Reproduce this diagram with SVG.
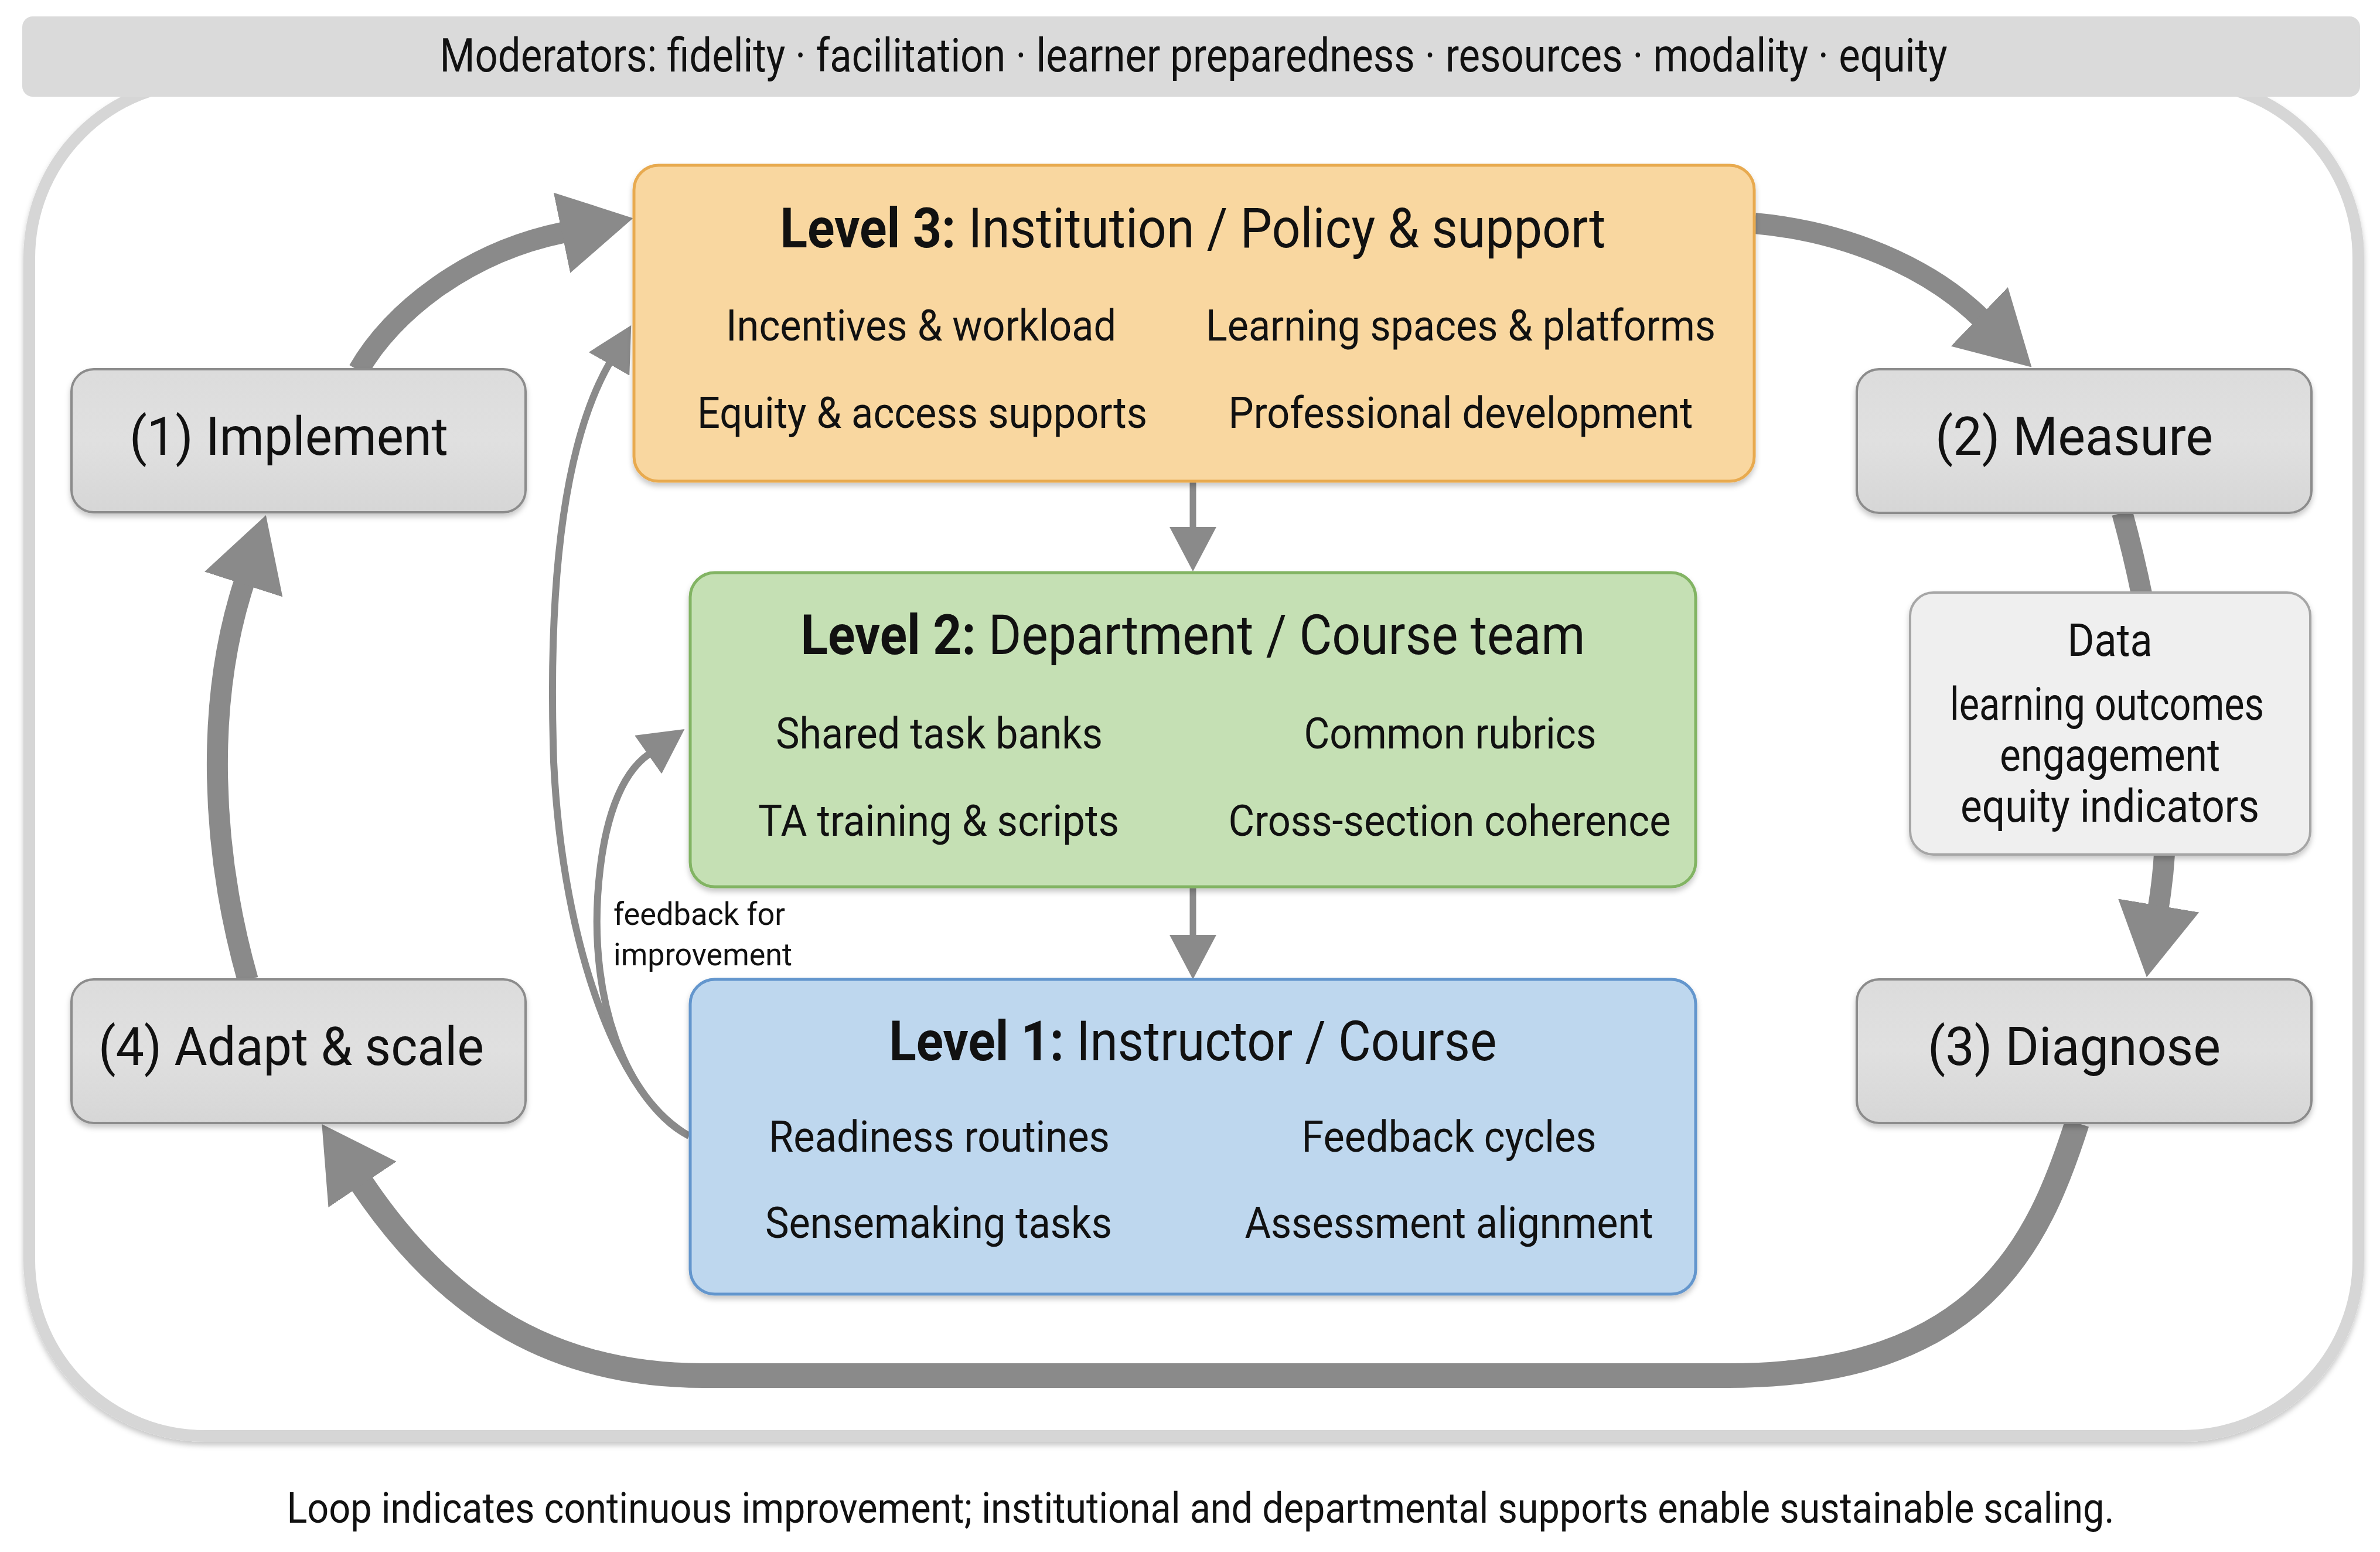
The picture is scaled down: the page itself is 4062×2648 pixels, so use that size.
<svg xmlns="http://www.w3.org/2000/svg" width="4062" height="2648" viewBox="0 0 4062 2648">
  <defs>
    <marker id="bigHead" markerUnits="userSpaceOnUse" viewBox="0 0 124 140" markerWidth="124" markerHeight="140" refX="1" refY="70" orient="auto">
      <path d="M0,0 L124,70 L0,140 Z" fill="#8a8a8a"/>
    </marker>
    <marker id="smallHead" markerUnits="userSpaceOnUse" viewBox="0 0 76 80" markerWidth="76" markerHeight="80" refX="1" refY="40" orient="auto">
      <path d="M0,0 L76,40 L0,80 Z" fill="#8a8a8a"/>
    </marker>
    <filter id="shadow" x="-5%" y="-5%" width="110%" height="120%">
      <feDropShadow dx="0" dy="6" stdDeviation="5" flood-color="#000000" flood-opacity="0.22"/>
    </filter>
    <linearGradient id="stepFill" x1="0" y1="0" x2="0" y2="1">
      <stop offset="0" stop-color="#dcdcdc"/>
      <stop offset="0.5" stop-color="#e0e0e0"/>
      <stop offset="1" stop-color="#d6d6d6"/>
    </linearGradient>
  </defs>
  <style>
    text { font-family: Roboto, "Liberation Sans", sans-serif; fill: #111111; }
    .step rect { fill: url(#stepFill); stroke: #8c8c8c; stroke-width: 4; filter: url(#shadow); }
    .step text { font-size: 90px; text-anchor: middle; }
    .lvl { filter: url(#shadow); }
    .title { font-size: 94px; text-anchor: middle; }
    .title .b { font-weight: bold; }
    .item { font-size: 74px; text-anchor: middle; }
    .data text { font-size: 78px; text-anchor: middle; }
    .big { fill: none; stroke: #8a8a8a; stroke-width: 36; marker-end: url(#bigHead); }
    .thin { fill: none; stroke: #8a8a8a; stroke-width: 12; marker-end: url(#smallHead); }
  </style>

  <rect width="4062" height="2648" fill="#ffffff"/>

  <!-- outer loop frame -->
  <rect id="frame" x="50" y="140" width="3975" height="2310" rx="300" ry="300" fill="#ffffff" stroke="#d6d6d6" stroke-width="20" filter="url(#shadow)"/>

  <!-- moderators bar -->
  <g id="moderators">
    <rect x="38" y="28" width="3990" height="137" rx="18" ry="18" fill="#dadada"/>
    <text x="2037" y="122" font-size="80" text-anchor="middle" textLength="2573" lengthAdjust="spacingAndGlyphs">Moderators: fidelity · facilitation · learner preparedness · resources · modality · equity</text>
  </g>

  <!-- connectors -->
  <g id="connectors">
    <!-- Implement -> Level 3 -->
    <path class="big" d="M612,632 C670,530 800,430 960,397"/>
    <!-- Level 3 -> Measure -->
    <path class="big" d="M2995,381 C3150,395 3290,455 3379,541"/>
    <!-- Measure -> Diagnose (behind Data) -->
    <path class="big" d="M3622,875 C3670,1050 3720,1330 3684,1546"/>
    <!-- Diagnose -> Adapt & scale -->
    <path class="big" style="stroke-width:42" d="M3545,1916 C3480,2120 3380,2347 2950,2347 L1200,2347 C950,2347 766,2240 618,2020"/>
    <!-- Adapt & scale -> Implement -->
    <path class="big" d="M423,1672 C360,1450 350,1200 416,996"/>
    <!-- Level 3 -> Level 2 -->
    <path class="thin" d="M2036,822 L2036,900" style="stroke-width:11"/>
    <!-- Level 2 -> Level 1 -->
    <path class="thin" d="M2036,1514 L2036,1596" style="stroke-width:11"/>
    <!-- feedback Level 1 -> Level 3 -->
    <path class="thin" d="M1176,1938 C1060,1880 960,1620 945,1300 C935,1000 960,760 1040,620"/>
    <!-- feedback Level 1 -> Level 2 -->
    <path class="thin" d="M1176,1938 C1060,1870 1010,1700 1020,1530 C1028,1400 1060,1320 1107,1287"/>
    <text x="1047" y="1578" font-size="54" textLength="293" lengthAdjust="spacingAndGlyphs">feedback for</text>
    <text x="1047" y="1647" font-size="54" textLength="305" lengthAdjust="spacingAndGlyphs">improvement</text>
  </g>

  <!-- step nodes -->
  <g id="step1" class="step">
    <rect x="122" y="630" width="775" height="244" rx="38" ry="38"/>
    <text x="493" y="776" textLength="544" lengthAdjust="spacingAndGlyphs">(1) Implement</text>
  </g>
  <g id="step2" class="step">
    <rect x="3169" y="630" width="776" height="245" rx="38" ry="38"/>
    <text x="3540" y="776" textLength="474" lengthAdjust="spacingAndGlyphs">(2) Measure</text>
  </g>
  <g id="step3" class="step">
    <rect x="3169" y="1671" width="776" height="245" rx="38" ry="38"/>
    <text x="3540" y="1817" textLength="500" lengthAdjust="spacingAndGlyphs">(3) Diagnose</text>
  </g>
  <g id="step4" class="step">
    <rect x="122" y="1671" width="775" height="245" rx="38" ry="38"/>
    <text x="497" y="1817" textLength="658" lengthAdjust="spacingAndGlyphs">(4) Adapt &amp; scale</text>
  </g>

  <!-- data node -->
  <g id="data" class="data">
    <rect x="3260" y="1011" width="683" height="447" rx="40" ry="40" fill="#efefef" stroke="#a6a6a6" stroke-width="4" filter="url(#shadow)"/>
    <text x="3601" y="1119" textLength="145" lengthAdjust="spacingAndGlyphs">Data</text>
    <text x="3596" y="1228" textLength="536" lengthAdjust="spacingAndGlyphs">learning outcomes</text>
    <text x="3601" y="1315" textLength="376" lengthAdjust="spacingAndGlyphs">engagement</text>
    <text x="3601" y="1402" textLength="510" lengthAdjust="spacingAndGlyphs">equity indicators</text>
  </g>

  <!-- Level 3 -->
  <g id="level3">
    <rect class="lvl" x="1082" y="282" width="1912" height="539" rx="42" ry="42" fill="#f9d7a0" stroke="#e8aa50" stroke-width="5"/>
    <text class="title" x="2036" y="422" textLength="1409" lengthAdjust="spacingAndGlyphs"><tspan class="b">Level 3:</tspan> Institution / Policy &amp; support</text>
    <text class="item" x="1572" y="581" textLength="666" lengthAdjust="spacingAndGlyphs">Incentives &amp; workload</text>
    <text class="item" x="2493" y="581" textLength="870" lengthAdjust="spacingAndGlyphs">Learning spaces &amp; platforms</text>
    <text class="item" x="1574" y="730" textLength="768" lengthAdjust="spacingAndGlyphs">Equity &amp; access supports</text>
    <text class="item" x="2493" y="730" textLength="793" lengthAdjust="spacingAndGlyphs">Professional development</text>
  </g>

  <!-- Level 2 -->
  <g id="level2">
    <rect class="lvl" x="1178" y="977" width="1716" height="536" rx="42" ry="42" fill="#c5e0b4" stroke="#82b464" stroke-width="5"/>
    <text class="title" x="2036" y="1116" textLength="1339" lengthAdjust="spacingAndGlyphs"><tspan class="b">Level 2:</tspan> Department / Course team</text>
    <text class="item" x="1603" y="1277" textLength="558" lengthAdjust="spacingAndGlyphs">Shared task banks</text>
    <text class="item" x="2475" y="1277" textLength="499" lengthAdjust="spacingAndGlyphs">Common rubrics</text>
    <text class="item" x="1602" y="1426" textLength="616" lengthAdjust="spacingAndGlyphs">TA training &amp; scripts</text>
    <text class="item" x="2474" y="1426" textLength="755" lengthAdjust="spacingAndGlyphs">Cross-section coherence</text>
  </g>

  <!-- Level 1 -->
  <g id="level1">
    <rect class="lvl" x="1178" y="1671" width="1716" height="537" rx="42" ry="42" fill="#bed7ee" stroke="#6496cd" stroke-width="5"/>
    <text class="title" x="2036" y="1809" textLength="1037" lengthAdjust="spacingAndGlyphs"><tspan class="b">Level 1:</tspan> Instructor / Course</text>
    <text class="item" x="1603" y="1965" textLength="582" lengthAdjust="spacingAndGlyphs">Readiness routines</text>
    <text class="item" x="2473" y="1965" textLength="503" lengthAdjust="spacingAndGlyphs">Feedback cycles</text>
    <text class="item" x="1602" y="2112" textLength="592" lengthAdjust="spacingAndGlyphs">Sensemaking tasks</text>
    <text class="item" x="2473" y="2112" textLength="697" lengthAdjust="spacingAndGlyphs">Assessment alignment</text>
  </g>

  <!-- caption -->
  <text id="caption" x="2049" y="2598" font-size="72" text-anchor="middle" textLength="3119" lengthAdjust="spacingAndGlyphs">Loop indicates continuous improvement; institutional and departmental supports enable sustainable scaling.</text>
</svg>
